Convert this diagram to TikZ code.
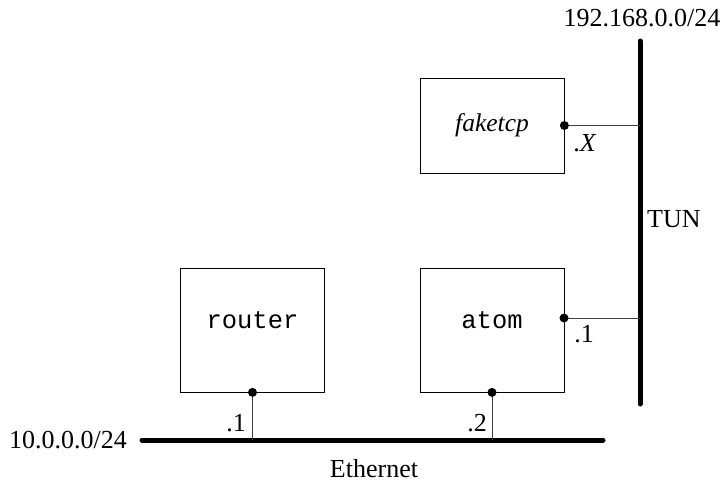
\documentclass[tikz,border=0pt]{standalone}
\usepackage{fontspec}
\setmainfont{Liberation Serif}
\setmonofont{Liberation Mono}
\begin{document}
\begin{tikzpicture}[x=1pt,y=-1pt,
  hostbox/.style={draw,line width=0.8pt,minimum width=144pt,minimum height=124pt,inner sep=0pt},
  hosttext/.style={font=\fontsize{25.5}{30}\selectfont\ttfamily,inner sep=0pt},
  bus/.style={line width=5pt,line cap=round},
  link/.style={line width=1pt,draw=black!75},
  dotc/.style={circle,fill=black,inner sep=0pt,minimum size=9pt},
  lbl/.style={font=\fontsize{26}{30}\selectfont,inner sep=0pt}]
\useasboundingbox (0,0) rectangle (722,483);
\node[hostbox,minimum height=95pt] (faketcp) at (492,125.5) {\fontsize{25.5}{30}\selectfont\itshape faketcp};
\node[hostbox] (router) at (252.5,330) {};
\node[hostbox] (atom) at (492,330) {};
\node[hosttext] (routert) at (252.5,320) {router};
\node[hosttext] (atomt) at (492,320) {atom};
% buses
\coordinate (tunT) at (640,41);
\coordinate (tunB) at (640,404);
\coordinate (ethL) at (142,440);
\coordinate (ethR) at (603,440);
\draw[bus] (tunT) -- (tunB);
\draw[bus] (ethL) -- (ethR);
% interfaces
\coordinate (fdot) at (faketcp.east);
\coordinate (adotR) at (564,318);
\coordinate (adotB) at (atom.south);
\coordinate (rdot) at (router.south);
\coordinate (fT) at (640,125.5);
\coordinate (aT) at (640,318);
\coordinate (rE) at (252.5,440);
\coordinate (aE) at (492,440);
\draw[link] (fdot) -- (fT);
\draw[link] (adotR) -- (aT);
\draw[link] (rdot) -- (rE);
\draw[link] (adotB) -- (aE);
\node[dotc] (fd) at (fdot) {};
\node[dotc] (ad1) at (adotR) {};
\node[dotc] (ad2) at (adotB) {};
\node[dotc] (rd) at (rdot) {};
% labels
\node[lbl] (net2) at (642,18) {192.168.0.0/24};
\node[lbl,anchor=west] (tun) at (647,219) {TUN};
\node[lbl] (fx) at (585,143) {.\textit{X}};
\node[lbl] (a1) at (584,334) {.1};
\node[lbl] (r1) at (236,423) {.1};
\node[lbl] (a2) at (477,423) {.2};
\node[lbl,anchor=east] (net1) at (127,440) {10.0.0.0/24};
\node[lbl] (eth) at (374,469) {Ethernet};
\end{tikzpicture}
\end{document}
